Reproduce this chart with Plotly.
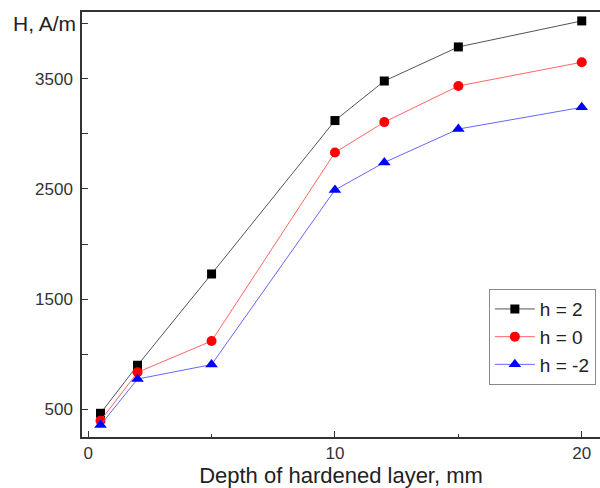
import plotly.graph_objects as go

depth = [0.5, 2, 5, 10, 12, 15, 20]
h_pos2 = [464, 900, 1728, 3120, 3479, 3788, 4024]
h_zero = [397, 836, 1120, 2830, 3106, 3434, 3649]
h_neg2 = [357, 775, 906, 2490, 2740, 3043, 3240]
names = ["h = 2", "h = 0", "h = -2"]
line_colors = ["#555555", "#ff6666", "#6666ff"]
marker_colors = ["#000000", "#ff0000", "#0000ff"]
symbols = ["square", "circle", "triangle-up"]
sizes = [9, 10, 11]

fig = go.Figure()
for ys, nm, lc, mc, sym, sz in zip([h_pos2, h_zero, h_neg2], names, line_colors, marker_colors, symbols, sizes):
    fig.add_trace(go.Scatter(
        x=depth, y=ys, name=nm, mode="lines+markers",
        line=dict(color=lc, width=1),
        marker=dict(symbol=sym, size=sz, color=mc, line=dict(width=0)),
    ))

FONT = "Liberation Sans, Arial, sans-serif"
axis_font = dict(family=FONT, size=17, color="#333333")
fig.update_layout(
    width=600, height=488,
    margin=dict(l=82, r=0, t=12, b=51),
    paper_bgcolor="white", plot_bgcolor="white",
    font=dict(family=FONT, color="#222222"),
    showlegend=True,
    legend=dict(
        x=0.992, y=0.348, xanchor="right", yanchor="top",
        bordercolor="#888888", borderwidth=1, bgcolor="white",
        font=dict(size=19, color="#222222"),
        tracegroupgap=0, itemwidth=40,
    ),
    xaxis=dict(
        range=[-0.25, 20.74], tickvals=[0, 10, 20],
        ticks="inside", ticklen=6, tickwidth=1.2, tickcolor="#333333",
        minor=dict(tickvals=[5, 15], ticks="inside", ticklen=3, tickcolor="#333333"),
        showline=True, linecolor="#333333", linewidth=1.5, mirror=True,
        showgrid=False, zeroline=False, tickfont=axis_font,
        title=dict(text="Depth of hardened layer, mm", font=dict(size=22, color="#222222"), standoff=4),
    ),
    yaxis=dict(
        range=[249, 4105], tickvals=[500, 1500, 2500, 3500],
        ticks="inside", ticklen=6, tickwidth=1.2, tickcolor="#333333",
        minor=dict(tickvals=[1000, 2000, 3000, 4000], ticks="inside", ticklen=6, tickcolor="#333333"),
        showline=True, linecolor="#333333", linewidth=1.5, mirror=False,
        showgrid=False, zeroline=False, tickfont=axis_font,
        ticklabelstandoff=4,
    ),
)
fig.add_annotation(
    xref="paper", yref="y", x=0, y=4000, xanchor="right", yanchor="middle",
    xshift=-4, text="H, A/m", showarrow=False,
    font=dict(family=FONT, size=21, color="#222222"),
)
fig.write_html(
    "out.html",
    config={"displayModeBar": False},
    post_script="document.body.style.margin='0';document.body.style.overflow='hidden';",
)
